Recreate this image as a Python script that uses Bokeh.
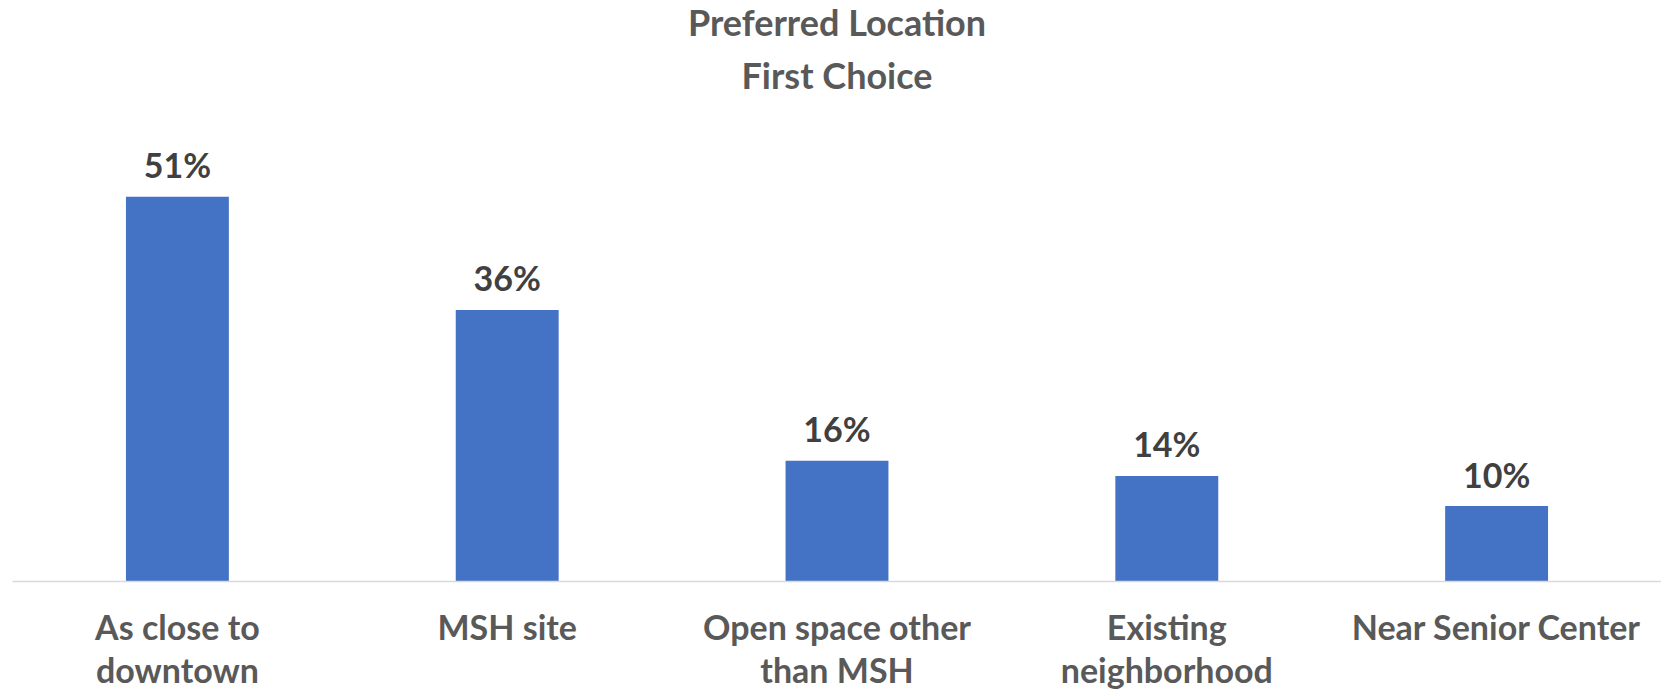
from bokeh.plotting import figure
from bokeh.models import ColumnDataSource, Range1d, FactorRange, Title
from bokeh.core.properties import value
from bokeh.embed import file_html
from bokeh.resources import INLINE

categories = ["As close to\ndowntown", "MSH site", "Open space other\nthan MSH",
              "Existing\nneighborhood", "Near Senior Center"]
values = [51, 36, 16, 14, 10]
labels = [f"{v}%" for v in values]
title_lines = ["Preferred Location", "First Choice"]

FONT = "Lato"

src = ColumnDataSource(dict(cat=categories, val=values, lab=labels))

p = figure(width=1661, height=692, x_range=FactorRange(*categories, range_padding=0),
           y_range=Range1d(0, 63.1), output_backend="svg", toolbar_location=None,
           min_border_left=12, min_border_right=0, min_border_bottom=110,
           min_border_top=0, title=None)

# titles: first added sits closest to the plot
standoffs = {"First Choice": 18, "Preferred Location": -5}
for txt in reversed(title_lines):
    t = Title(text=txt, align="center", text_font=FONT, text_font_size="36px",
              text_font_style="bold", text_color="#595959",
              standoff=standoffs[txt], offset=0)
    p.add_layout(t, "above")

p.vbar(x="cat", top="val", width=0.312, source=src, fill_color="#4472C4", line_color=None)
p.text(x="cat", y="val", text="lab", source=src, text_align="center",
       text_baseline="alphabetic", y_offset=-32, text_font=value(FONT),
       text_font_size="34px", text_font_style="bold", text_color="#404040")

p.yaxis.visible = False
p.xgrid.visible = False
p.ygrid.visible = False
p.outline_line_color = None
xa = p.xaxis[0]
xa.axis_line_color = "#D9D9D9"
xa.axis_line_width = 1.5
xa.major_tick_line_color = None
xa.minor_tick_line_color = None
xa.major_label_standoff = 18
xa.major_label_text_font = FONT
xa.major_label_text_font_size = "34px"
xa.major_label_text_font_style = "bold"
xa.major_label_text_color = "#595959"
xa.major_label_text_line_height = 1.05
xa.major_label_orientation = "horizontal"

open("out.html", "w").write(file_html(p, INLINE))
